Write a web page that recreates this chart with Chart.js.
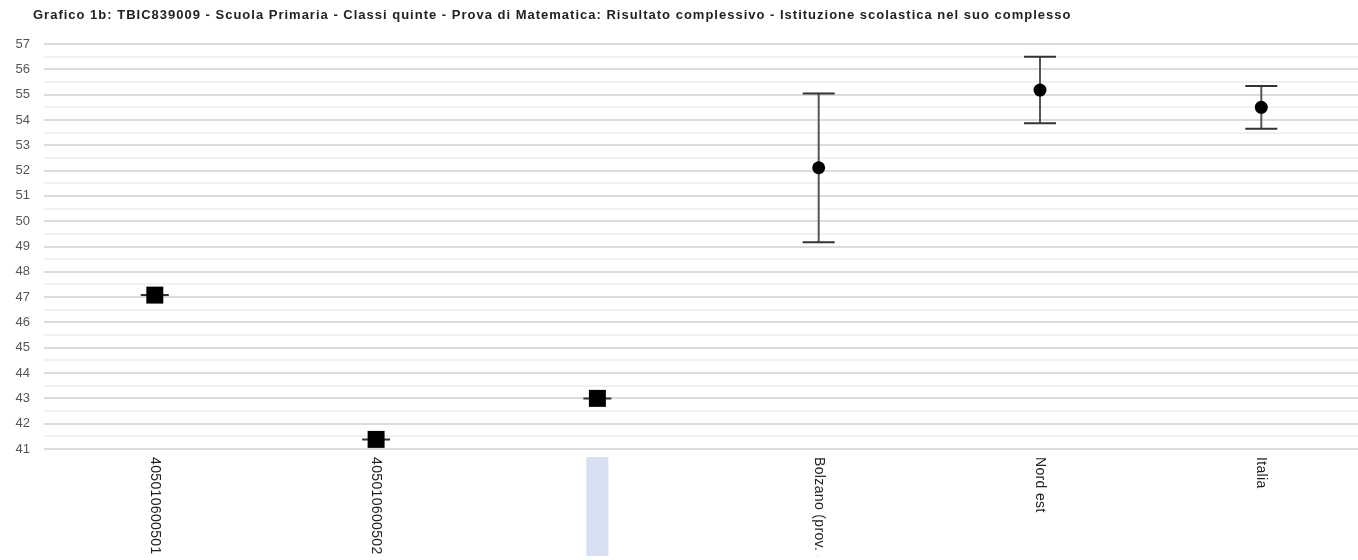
<!DOCTYPE html>
<html>
<head>
<meta charset="utf-8">
<script src="https://cdn.jsdelivr.net/npm/chart.js@4.4.0/dist/chart.umd.min.js"></script>
<style>
  html, body { margin: 0; padding: 0; background: #fff; overflow: hidden; }
  #wrap { width: 1358px; height: 560px; position: relative; }
</style>
</head>
<body>
<div id="wrap"><canvas id="c"></canvas></div>
<script>
// ---- data ----
const titleText = "Grafico 1b: TBIC839009 - Scuola Primaria - Classi quinte - Prova di Matematica: Risultato complessivo - Istituzione scolastica nel suo complesso";
const categories = ["405010600501", "405010600502", "", "Bolzano (prov. aut.)", "Nord est", "Italia"];
const values      = [47.08, 41.38, 43.0, 52.11, 55.18, 54.50];
const lowerBounds = [47.08, 41.38, 43.0, 49.17, 53.87, 53.65];
const upperBounds = [47.08, 41.38, 43.0, 55.04, 56.50, 55.34];
const highlighted = [false, false, true, false, false, false];
const markerStyles = ["rect", "rect", "rect", "circle", "circle", "circle"];
const yMin = 41, yMax = 57, yStep = 0.5;

const FONT = "'Liberation Sans', Arial, Helvetica, sans-serif";

const titlePlugin = {
  id: 'leftTitle',
  afterDraw(chart) {
    const ctx = chart.ctx;
    ctx.save();
    ctx.font = "bold 13px " + FONT;
    ctx.letterSpacing = '1px';
    ctx.fillStyle = '#222';
    ctx.textAlign = 'left';
    ctx.textBaseline = 'middle';
    ctx.fillText(titleText, 33, 15);
    ctx.restore();
  }
};

const errorBarPlugin = {
  id: 'errorBars',
  beforeDatasetsDraw(chart) {
    const ctx = chart.ctx, xs = chart.scales.x, ys = chart.scales.y;
    ctx.save();
    values.forEach((v, i) => {
      const x = xs.getPixelForValue(i);
      const yl = ys.getPixelForValue(lowerBounds[i]);
      const yh = ys.getPixelForValue(upperBounds[i]);
      const cap = markerStyles[i] === 'rect' ? 14 : 16;
      ctx.strokeStyle = '#555';
      ctx.lineWidth = 2;
      ctx.beginPath(); ctx.moveTo(x, yl); ctx.lineTo(x, yh); ctx.stroke();
      ctx.strokeStyle = '#333';
      ctx.beginPath();
      ctx.moveTo(x - cap, yl); ctx.lineTo(x + cap, yl);
      ctx.moveTo(x - cap, yh); ctx.lineTo(x + cap, yh);
      ctx.stroke();
    });
    ctx.restore();
  }
};

const xLabelPlugin = {
  id: 'xLabels',
  afterDraw(chart) {
    const ctx = chart.ctx, xs = chart.scales.x, area = chart.chartArea;
    const top = area.bottom + 8, bottom = 556;
    ctx.save();
    ctx.beginPath();
    ctx.rect(0, top - 2, chart.width, bottom - top + 2);
    ctx.clip();
    categories.forEach((lab, i) => {
      const x = xs.getPixelForValue(i);
      if (highlighted[i]) {
        ctx.fillStyle = 'rgb(214,224,241)';
        ctx.fillRect(x - 11, top, 22, bottom - top);
      }
      ctx.save();
      ctx.translate(x, top);
      ctx.rotate(Math.PI / 2);
      ctx.fillStyle = '#222';
      ctx.font = "14px " + FONT;
      ctx.letterSpacing = '0.35px';
      ctx.textAlign = 'left';
      ctx.textBaseline = 'middle';
      ctx.fillText(lab, 0, 0);
      ctx.restore();
    });
    ctx.restore();
  }
};

new Chart(document.getElementById('c'), {
  type: 'scatter',
  data: {
    datasets: [{
      data: values.map((v, i) => ({ x: i, y: v })),
      pointStyle: markerStyles,
      pointRadius: markerStyles.map(s => s === 'rect' ? 12 : 6.5),
      pointHoverRadius: markerStyles.map(s => s === 'rect' ? 12 : 6.5),
      backgroundColor: '#000',
      borderColor: '#000',
      borderWidth: 0,
      showLine: false
    }]
  },
  options: {
    responsive: true,
    maintainAspectRatio: false,
    animation: false,
    layout: { autoPadding: false, padding: { left: 0, right: 0, top: 44, bottom: 0 } },
    plugins: {
      legend: { display: false },
      tooltip: { enabled: false },
      title: { display: false }
    },
    scales: {
      x: {
        type: 'linear',
        min: -0.5007,
        max: 5.437,
        grid: { display: false },
        border: { display: false },
        ticks: { display: false },
        afterFit(scale) { scale.height = 111; }
      },
      y: {
        type: 'linear',
        min: yMin,
        max: yMax,
        border: { display: false },
        grid: {
          drawTicks: false,
          color: c => (c.tick && Number.isInteger(c.tick.value)) ? '#dcdcdc' : '#f1f1f1',
          lineWidth: 2
        },
        ticks: {
          stepSize: yStep,
          autoSkip: false,
          padding: 14,
          color: '#555',
          font: { family: FONT, size: 13 },
          callback: v => Number.isInteger(v) ? String(v) : ''
        },
        afterFit(scale) { scale.width = 44; }
      }
    }
  },
  plugins: [titlePlugin, errorBarPlugin, xLabelPlugin]
});
</script>
</body>
</html>
